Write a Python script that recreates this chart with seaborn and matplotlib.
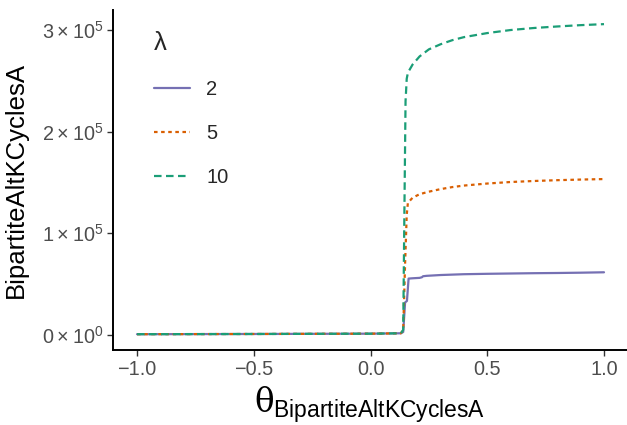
import numpy as np
import pandas as pd
import matplotlib
matplotlib.use("Agg")
import matplotlib.pyplot as plt
import seaborn as sns

# ---- data ----
x_l2 = [-1.0, -0.5, 0.0, 0.13, 0.14, 0.148, 0.156, 0.163, 0.18, 0.21, 0.22, 0.225,
        0.24, 0.3, 0.4, 0.5, 0.6, 0.7, 0.8, 0.9, 1.0]
y_l2 = [800, 1000, 1300, 1700, 3000, 32000, 33500, 55500, 55800, 56200, 56800, 57800,
        58200, 59000, 59800, 60200, 60500, 60800, 61000, 61300, 61700]

x_l5 = [-1.0, -0.5, 0.0, 0.13, 0.14, 0.148, 0.155, 0.16, 0.18, 0.21, 0.25, 0.3,
        0.35, 0.4, 0.5, 0.6, 0.7, 0.8, 0.9, 1.0]
y_l5 = [800, 1000, 1300, 1700, 5000, 70000, 118000, 130000, 135000, 138500, 141000,
        143500, 145500, 147000, 149000, 150500, 151500, 152300, 152900, 153400]

x_l10 = [-1.0, -0.5, 0.0, 0.13, 0.14, 0.145, 0.15, 0.155, 0.16, 0.18, 0.21, 0.25,
         0.3, 0.35, 0.4, 0.5, 0.6, 0.7, 0.8, 0.9, 1.0]
y_l10 = [800, 1000, 1300, 1700, 5000, 120000, 230000, 252000, 258000, 266000, 274000,
         281000, 286000, 290000, 293000, 297000, 300000, 302000, 303500, 304800, 305800]

lambdas = ["2", "5", "10"]
colors = ["#7570B3", "#D95F02", "#1B9E77"]

y_ticks = [0, 1e5, 2e5, 3e5]
y_tick_labels = [r"$0\times10^{0}$", r"$1\times10^{5}$", r"$2\times10^{5}$", r"$3\times10^{5}$"]
x_ticks = [-1.0, -0.5, 0.0, 0.5, 1.0]
x_tick_labels = ["\u22121.0", "\u22120.5", "0.0", "0.5", "1.0"]

df = pd.concat([
    pd.DataFrame({"theta": x_l2, "value": y_l2, "lam": "2"}),
    pd.DataFrame({"theta": x_l5, "value": y_l5, "lam": "5"}),
    pd.DataFrame({"theta": x_l10, "value": y_l10, "lam": "10"}),
], ignore_index=True)

sns.set_style("white")
plt.rcParams["font.family"] = ["Liberation Sans", "DejaVu Sans"]
plt.rcParams["mathtext.fontset"] = "custom"
plt.rcParams["mathtext.rm"] = "Liberation Sans"
plt.rcParams["mathtext.sf"] = "Liberation Sans"
plt.rcParams["mathtext.it"] = "DejaVu Serif"

fig = plt.figure(figsize=(6.27, 4.25), dpi=100)
ax = fig.add_axes([113 / 627, 1 - 350 / 425, 1 - 113 / 627, 340 / 425])

sns.lineplot(data=df, x="theta", y="value", hue="lam", style="lam",
             hue_order=lambdas, style_order=lambdas,
             palette=dict(zip(lambdas, colors)),
             dashes={"2": "", "5": (1.6, 1.6), "10": (3.4, 2.0)},
             linewidth=1.6, sort=False, ax=ax, estimator=None)

ax.set_xlim(-1.103, 1.0985)
ax.set_ylim(-14750, 319700)
ax.set_xticks(x_ticks)
ax.set_xticklabels(x_tick_labels)
ax.set_yticks(y_ticks)
ax.set_yticklabels(y_tick_labels)

for s in ["top", "right"]:
    ax.spines[s].set_visible(False)
for s in ["left", "bottom"]:
    ax.spines[s].set_color("black")
    ax.spines[s].set_linewidth(1.4)

ax.tick_params(axis="both", which="major", length=4, width=1.0, color="#333333",
               labelsize=14.3, labelcolor="#4D4D4D", direction="out", bottom=True, left=True, pad=3)

ax.set_ylabel("BipartiteAltKCyclesA", fontsize=18.5, color="black")
ax.yaxis.set_label_coords(-0.165, 0.5)
ax.set_xlabel(r"$\theta_{\mathrm{BipartiteAltKCyclesA}}$", fontsize=23.5, color="black", labelpad=4)

leg = ax.legend(title="\u03bb", loc="upper left", bbox_to_anchor=(0.064, 0.962),
                frameon=False, fontsize=14.5, title_fontsize=18.5,
                handlelength=1.8, labelspacing=1.25, handletextpad=0.8, borderaxespad=0)
leg._legend_box.align = "left"
for line in leg.get_lines():
    line.set_linewidth(1.6)

fig.savefig("out.png", dpi=100)
